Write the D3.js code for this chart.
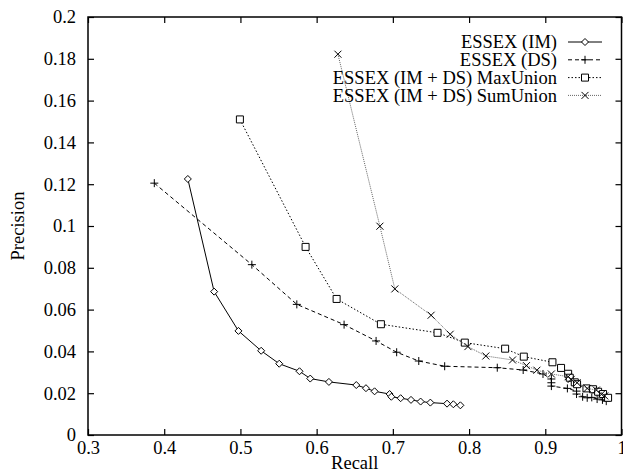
<!DOCTYPE html>
<html>
<head>
<meta charset="utf-8">
<script src="https://cdn.jsdelivr.net/npm/d3@7"></script>
<style>
  body { margin: 0; background: #fff; }
  text { font-family: "Liberation Serif", "Times New Roman", serif; fill: #000; }
</style>
</head>
<body>
<div id="chart"></div>
<script>
const width = 623;
const height = 474;
const margin = {top: 17, right: 1.5, bottom: 39, left: 88};

// series (recall, precision)
const imRecall = [0.431, 0.4655, 0.4974, 0.5272, 0.5509, 0.5775, 0.5916, 0.6161, 0.652, 0.6647, 0.676, 0.6957, 0.698, 0.7102, 0.7238, 0.7364, 0.7492, 0.7711, 0.7794, 0.7886];
const imPrecision = [0.1225, 0.0686, 0.0498, 0.0403, 0.0341, 0.0305, 0.027, 0.0254, 0.0239, 0.0224, 0.0209, 0.0196, 0.0183, 0.0176, 0.0168, 0.016, 0.0155, 0.015, 0.0147, 0.0142];

const dsRecall = [0.387, 0.515, 0.574, 0.636, 0.678, 0.705, 0.734, 0.768, 0.837, 0.871, 0.897, 0.908, 0.908, 0.908, 0.929, 0.941, 0.941, 0.949, 0.955, 0.961, 0.968, 0.975, 0.98];
const dsPrecision = [0.1205, 0.0815, 0.0625, 0.0528, 0.045, 0.0396, 0.0354, 0.0329, 0.0322, 0.0311, 0.0292, 0.0268, 0.025, 0.0234, 0.0223, 0.021, 0.0196, 0.0183, 0.0178, 0.018, 0.0172, 0.0168, 0.0162];

const maxRecall = [0.4993, 0.5855, 0.6262, 0.6843, 0.7586, 0.7944, 0.8473, 0.8718, 0.9094, 0.9207, 0.93, 0.9321, 0.9387, 0.9417, 0.954, 0.9627, 0.9693, 0.9758, 0.9824];
const maxPrecision = [0.151, 0.09, 0.0651, 0.053, 0.0489, 0.0442, 0.0413, 0.0375, 0.0348, 0.0321, 0.0293, 0.0274, 0.0252, 0.0243, 0.0223, 0.0219, 0.0207, 0.0196, 0.0178];

const sumRecall = [0.6279, 0.683, 0.7026, 0.7502, 0.7752, 0.7985, 0.822, 0.857, 0.8753, 0.889, 0.908, 0.93, 0.934, 0.9417, 0.955, 0.967, 0.9737, 0.978];
const sumPrecision = [0.1822, 0.0999, 0.0699, 0.0573, 0.0482, 0.0423, 0.0378, 0.0359, 0.0332, 0.031, 0.0292, 0.0279, 0.0266, 0.025, 0.0223, 0.0215, 0.0195, 0.0187];

const seriesNames = ["ESSEX (IM)", "ESSEX (DS)", "ESSEX (IM + DS) MaxUnion", "ESSEX (IM + DS) SumUnion"];
const xTicks = [0.3, 0.4, 0.5, 0.6, 0.7, 0.8, 0.9, 1];
const yTicks = [0, 0.02, 0.04, 0.06, 0.08, 0.1, 0.12, 0.14, 0.16, 0.18, 0.2];

const series = [
  {name: seriesNames[0], x: imRecall, y: imPrecision, marker: "diamond", dash: null, stroke: "#000"},
  {name: seriesNames[1], x: dsRecall, y: dsPrecision, marker: "plus", dash: "4,3", stroke: "#000"},
  {name: seriesNames[2], x: maxRecall, y: maxPrecision, marker: "square", dash: "1.5,2", stroke: "#000"},
  {name: seriesNames[3], x: sumRecall, y: sumPrecision, marker: "cross", dash: "1,1", stroke: "#666"}
];

const svg = d3.select("#chart").append("svg")
  .attr("width", width)
  .attr("height", height);

const x = d3.scaleLinear().domain([0.3, 1]).range([margin.left, width - margin.right]);
const y = d3.scaleLinear().domain([0, 0.2]).range([height - margin.bottom, margin.top]);

const fmt = d => d3.format("~g")(d);

// axes, ticks pointing inward on all four sides
svg.append("g")
  .attr("transform", `translate(0,${y(0)})`)
  .call(d3.axisBottom(x).tickValues(xTicks).tickSize(-6).tickPadding(6).tickFormat(fmt))
  .call(g => g.select(".domain").remove());
svg.append("g")
  .attr("transform", `translate(0,${y(0.2)})`)
  .call(d3.axisTop(x).tickValues(xTicks).tickSize(-6).tickFormat(""))
  .call(g => g.select(".domain").remove());
svg.append("g")
  .attr("transform", `translate(${x(0.3)},0)`)
  .call(d3.axisLeft(y).tickValues(yTicks).tickSize(-6).tickPadding(12).tickFormat(fmt))
  .call(g => g.select(".domain").remove());
svg.append("g")
  .attr("transform", `translate(${x(1)},0)`)
  .call(d3.axisRight(y).tickValues(yTicks).tickSize(-6).tickFormat(""))
  .call(g => g.select(".domain").remove());

svg.selectAll(".tick line").attr("stroke", "#000").attr("stroke-width", 1.2);
svg.selectAll(".tick text").style("font-size", "18.5px").style("font-family", "Liberation Serif, serif");

svg.append("rect")
  .attr("x", x(0.3)).attr("y", y(0.2))
  .attr("width", x(1) - x(0.3)).attr("height", y(0) - y(0.2))
  .attr("fill", "none").attr("stroke", "#000").attr("stroke-width", 1.5);

svg.append("text")
  .attr("x", (x(0.3) + x(1)) / 2).attr("y", 469)
  .attr("text-anchor", "middle").style("font-size", "18.5px")
  .text("Recall");
svg.append("text")
  .attr("transform", `translate(24,${(y(0) + y(0.2)) / 2}) rotate(-90)`)
  .attr("text-anchor", "middle").style("font-size", "18.5px")
  .text("Precision");

const symbolPath = (type) => {
  if (type === "diamond") return "M0,-3.5L3.5,0L0,3.5L-3.5,0Z";
  if (type === "plus") return "M-4,0H4M0,-4V4";
  if (type === "square") return "M-3.5,-3.5H3.5V3.5H-3.5Z";
  return "M-3.5,-3.5L3.5,3.5M-3.5,3.5L3.5,-3.5";
};

const line = d3.line().x(d => x(d[0])).y(d => y(d[1]));

series.forEach(s => {
  const pts = s.x.map((v, i) => [v, s.y[i]]);
  svg.append("path")
    .datum(pts)
    .attr("fill", "none")
    .attr("stroke", s.stroke)
    .attr("stroke-width", 1)
    .attr("stroke-dasharray", s.dash)
    .attr("d", line);
  svg.append("g").selectAll("path")
    .data(pts)
    .join("path")
      .attr("transform", d => `translate(${x(d[0])},${y(d[1])})`)
      .attr("d", symbolPath(s.marker))
      .attr("fill", s.marker === "plus" || s.marker === "cross" ? "none" : "#fff")
      .attr("stroke", "#000")
      .attr("stroke-width", 1);
});

// legend
const legend = svg.append("g");
series.forEach((s, i) => {
  const ly = 42 + i * 17.8;
  legend.append("text")
    .attr("x", 557).attr("y", ly).attr("dy", "0.35em")
    .attr("text-anchor", "end").style("font-size", "18.5px")
    .text(s.name);
  legend.append("line")
    .attr("x1", 568).attr("x2", 602).attr("y1", ly).attr("y2", ly)
    .attr("stroke", s.stroke).attr("stroke-width", 1)
    .attr("stroke-dasharray", s.dash);
  legend.append("path")
    .attr("transform", `translate(585,${ly})`)
    .attr("d", symbolPath(s.marker))
    .attr("fill", s.marker === "plus" || s.marker === "cross" ? "none" : "#fff")
    .attr("stroke", "#000");
});
</script>
</body>
</html>
